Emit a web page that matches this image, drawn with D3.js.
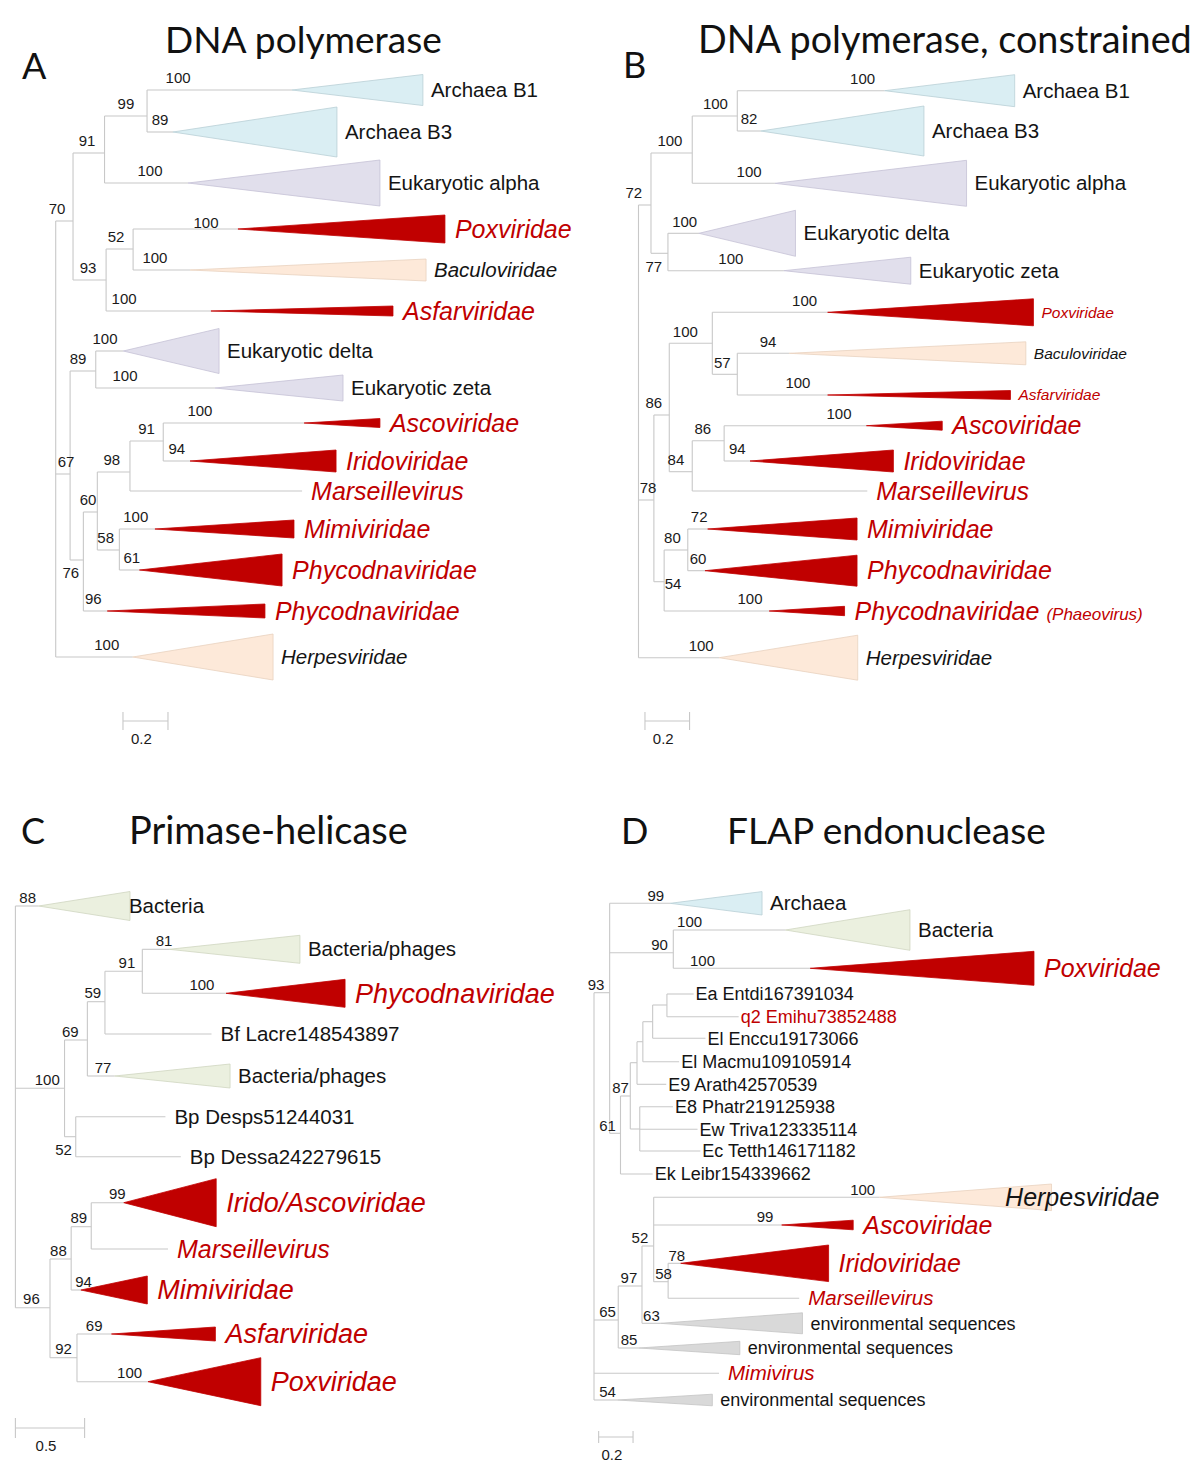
<!DOCTYPE html>
<html><head><meta charset="utf-8">
<script src="https://cdn.jsdelivr.net/npm/d3@7"></script>
<style>body{margin:0;background:#fff}svg{display:block}</style>
</head><body>
<svg id="fig" width="1200" height="1473"></svg>
<script>
// ================= DATA =================
// internal nodes: [id, parent, depth (subst./site), vertical position, support, support-label depth, support-label side]
// clades (collapsed): [name, parent, apex depth, base depth, position, half-spread, group, text style, support, support-label depth, side, label depth override, suffix]
// leaves: [name, parent, tip depth, position, text style]

// ---- A: DNA polymerase ----
const nodesA = [
  ["r", null, 0, null],
  ["n70", "r", 0.077, 131, 70, 0.006, "a"],
  ["n91", "n70", 0.217, 63, 91, 0.139, "a"],
  ["n99", "n91", 0.406, 26, 99, 0.312, "a"],
  ["n93", "n70", 0.224, 190, 93, 0.144, "a"],
  ["n52", "n93", 0.344, 159, 52, 0.268, "a"],
  ["n67", "r", 0.064, 384, 67, 0.046, "a"],
  ["n89", "n67", 0.178, 281, 89, 0.099, "a"],
  ["n76", "n67", 0.123, 470, 76, 0.067, "b"],
  ["n60", "n76", 0.185, 422, 60, 0.144, "a"],
  ["n98", "n60", 0.330, 382, 98, 0.249, "a"],
  ["n91b", "n98", 0.478, 351, 91, 0.404, "a"],
  ["n58", "n60", 0.283, 460, 58, 0.222, "a"]
];
const cladesA = [
  ["Archaea B1", "n99", 1.050, 1.632, 0, 15.5, "archaea", "N", 100, 0.544, "a"],
  ["Archaea B3", "n99", 0.521, 1.250, 42, 25, "archaea", "N", 89, 0.464, "a"],
  ["Eukaryotic alpha", "n91", 0.588, 1.441, 93, 23, "euk", "N", 100, 0.419, "a"],
  ["Poxviridae", "n52", 0.810, 1.730, 139, 14, "virus", "V", 100, 0.668, "l"],
  ["Baculoviridae", "n52", 0.597, 1.646, 180, 11, "dsdna", "I", 100, 0.441, "a"],
  ["Asfarviridae", "n93", 0.690, 1.499, 221, 5, "virus", "V", 100, 0.304, "a"],
  ["Eukaryotic delta", "n89", 0.300, 0.726, 261, 22.5, "euk", "N", 100, 0.219, "a"],
  ["Eukaryotic zeta", "n89", 0.708, 1.277, 298, 13, "euk", "N", 100, 0.308, "a"],
  ["Ascoviridae", "n91b", 1.104, 1.441, 333, 4.5, "virus", "V", 100, 0.641, "a"],
  ["Iridoviridae", "n91b", 0.597, 1.246, 371, 11, "virus", "V", 94, 0.538, "a"],
  ["Mimiviridae", "n58", 0.441, 1.059, 439, 9, "virus", "V", 100, 0.356, "a"],
  ["Phycodnaviridae", "n58", 0.372, 1.006, 480, 16, "virus", "V", 61, 0.338, "a"],
  ["Phycodnaviridae", "n76", 0.229, 0.930, 521, 7, "virus", "V", 96, 0.167, "a"],
  ["Herpesviridae", "r", 0.342, 0.966, 567, 23, "dsdna", "I", 100, 0.227, "a"]
];
const leavesA = [
  ["Marseillevirus", "n98", 1.095, 401, "V"]
];

// ---- B: DNA polymerase, constrained ----
const nodesB = [
  ["r", null, 0, null],
  ["n72", "r", 0.056, 115, 72, -0.021, "a"],
  ["n100a", "n72", 0.241, 63, 100, 0.141, "a"],
  ["n100b", "n100a", 0.443, 26, 100, 0.345, "a"],
  ["n77", "n72", 0.132, 163.3, 77, 0.069, "b"],
  ["n78", "r", 0.069, 410, 78, 0.043, "a"],
  ["n86a", "n78", 0.138, 325, 86, 0.069, "a"],
  ["n100c", "n86a", 0.331, 253.3, 100, 0.210, "a"],
  ["n57", "n100c", 0.443, 284.3, 57, 0.376, "a"],
  ["n84", "n86a", 0.241, 381.7, 84, 0.168, "a"],
  ["n86b", "n84", 0.384, 350.7, 86, 0.288, "a"],
  ["n54", "n78", 0.115, 491.7, 54, 0.155, "m"],
  ["n80", "n54", 0.221, 460, 80, 0.152, "a"]
];
const cladesB = [
  ["Archaea B1", "n100b", 1.104, 1.687, 0.7, 16, "archaea", "N", 100, 1.005, "a"],
  ["Archaea B3", "n100b", 0.548, 1.280, 41, 25, "archaea", "N", 82, 0.496, "a"],
  ["Eukaryotic alpha", "n100a", 0.612, 1.471, 93.3, 23, "euk", "N", 100, 0.496, "a"],
  ["Eukaryotic delta", "n77", 0.271, 0.704, 143.3, 23, "euk", "N", 100, 0.207, "a"],
  ["Eukaryotic zeta", "n77", 0.652, 1.221, 180.7, 13.5, "euk", "N", 100, 0.414, "a"],
  ["Poxviridae", "n100c", 0.848, 1.771, 222.3, 13.5, "virus", "v", 100, 0.745, "a"],
  ["Baculoviridae", "n57", 0.676, 1.737, 263.3, 11.5, "dsdna", "i", 94, 0.581, "a"],
  ["Asfarviridae", "n57", 0.848, 1.668, 305, 4.5, "virus", "v", 100, 0.715, "a"],
  ["Ascoviridae", "n86b", 1.022, 1.362, 335.7, 4.5, "virus", "V", 100, 0.899, "a"],
  ["Iridoviridae", "n86b", 0.500, 1.143, 371, 11, "virus", "V", 94, 0.443, "a"],
  ["Mimiviridae", "n80", 0.310, 0.980, 439, 11, "virus", "V", 72, 0.272, "a"],
  ["Phycodnaviridae", "n80", 0.298, 0.980, 480.7, 15.5, "virus", "V", 60, 0.267, "a"],
  ["Phycodnaviridae", "n54", 0.586, 0.924, 521, 4.7, "virus", "V", 100, 0.500, "a", null, "(Phaeovirus)"],
  ["Herpesviridae", "r", 0.362, 0.983, 567.7, 22.5, "dsdna", "I", 100, 0.281, "a"]
];
const leavesB = [
  ["Marseillevirus", "n84", 1.026, 401, "V"]
];

// ---- C: Primase-helicase ----
const nodesC = [
  ["r", null, 0, null],
  ["nP", "r", 0.355, 188.3, 100, 0.230, "a"],
  ["nQ", "nP", 0.520, 140, 69, 0.397, "a"],
  ["n59", "nQ", 0.647, 101.7, 59, 0.559, "a"],
  ["n91", "n59", 0.917, 71.3, 91, 0.806, "a"],
  ["n52", "nP", 0.436, 236.7, 52, 0.348, "b"],
  ["n96", "r", 0.250, 407.7, 96, 0.116, "a"],
  ["n88", "n96", 0.403, 359, 88, 0.311, "a"],
  ["n89", "n88", 0.548, 326.7, 89, 0.458, "a"],
  ["n92", "n96", 0.445, 457.7, 92, 0.348, "a"]
];
const cladesC = [
  ["Bacteria", "r", 0.167, 0.828, 6, 14.5, "bact", "N", 88, 0.089, "a", 0.82],
  ["Bacteria/phages", "n91", 1.111, 2.056, 49.3, 14, "bact", "N", 81, 1.074, "a"],
  ["Phycodnaviridae", "n91", 1.522, 2.382, 93.3, 14, "virus", "V", 100, 1.348, "a"],
  ["Bacteria/phages", "nQ", 0.717, 1.551, 176, 12, "bact", "N", 77, 0.633, "a"],
  ["Irido/Ascoviridae", "n89", 0.783, 1.451, 302.7, 24, "virus", "V", 99, 0.736, "a"],
  ["Mimiviridae", "n88", 0.473, 0.953, 390, 14, "virus", "V", 94, 0.492, "a"],
  ["Asfarviridae", "n92", 0.694, 1.445, 434, 7, "virus", "V", 69, 0.569, "a"],
  ["Poxviridae", "n92", 0.958, 1.773, 481.7, 24, "virus", "V", 100, 0.825, "a"]
];
const leavesC = [
  ["Bf Lacre148543897", "n59", 1.417, 134, "N"],
  ["Bp Desps51244031", "n52", 1.084, 216.7, "N"],
  ["Bp Dessa242279615", "n52", 1.195, 256.7, "N"],
  ["Marseillevirus", "n89", 1.103, 349, "v"]
];

// ---- D: FLAP endonuclease ----
const nodesD = [
  ["r", null, 0, null],
  ["n93", "r", 0.091, 92.7, 93, 0.012, "a"],
  ["n90", "n93", 0.461, 52.7, 90, 0.381, "a"],
  ["n61", "n93", 0.154, 233.3, 61, 0.079, "a"],
  ["n87", "n61", 0.211, 196, 87, 0.154, "a"],
  ["nb", "n87", 0.250, 162.7],
  ["nc", "nb", 0.284, 141.7],
  ["nd", "nc", 0.341, 121.7],
  ["ne", "nd", 0.424, 105],
  ["nf", "n87", 0.266, 229],
  ["n65", "r", 0.141, 420, 65, 0.079, "a"],
  ["n97", "n65", 0.279, 386, 97, 0.203, "a"],
  ["nx", "n97", 0.347, 346, 52, 0.267, "a"],
  ["n58", "nx", 0.431, 381.7, 58, 0.404, "a"]
];
const cladesD = [
  ["Archaea", "n93", 0.443, 0.977, 3.3, 11.7, "archaea", "N", 99, 0.359, "a"],
  ["Bacteria", "n90", 1.113, 1.837, 30, 20.3, "bact", "N", 100, 0.556, "a"],
  ["Poxviridae", "n90", 1.257, 2.558, 68.3, 17, "virus", "V", 100, 0.631, "a"],
  ["Herpesviridae", "nx", 1.659, 2.660, 297.3, 13.3, "dsdna", "I", 100, 1.562, "a", 2.39],
  ["Ascoviridae", "nx", 1.091, 1.507, 325, 4.8, "virus", "V", 99, 0.995, "a"],
  ["Iridoviridae", "n58", 0.504, 1.364, 363.3, 18.3, "virus", "V", 78, 0.481, "a"],
  ["environmental sequences", "n97", 0.386, 1.212, 423.3, 10.5, "env", "n", 63, 0.334, "a"],
  ["environmental sequences", "n65", 0.261, 0.848, 448, 6.7, "env", "n", 85, 0.204, "a"],
  ["environmental sequences", "r", 0.136, 0.688, 500, 5.8, "env", "n", 54, 0.079, "a"]
];
const leavesD = [
  ["Ea Entdi167391034", "ne", 0.579, 94, "n"],
  ["q2 Emihu73852488", "ne", 0.841, 116.7, "q"],
  ["El Enccu19173066", "nd", 0.648, 138.3, "n"],
  ["El Macmu109105914", "nc", 0.495, 161.7, "n"],
  ["E9 Arath42570539", "nb", 0.420, 184.3, "n"],
  ["E8 Phatr219125938", "nf", 0.459, 206.7, "n"],
  ["Ew Triva123335114", "nf", 0.602, 229.3, "n"],
  ["Ec Tetth146171182", "nf", 0.618, 251, "n"],
  ["Ek Leibr154339662", "n61", 0.341, 274, "n"],
  ["Marseillevirus", "n58", 1.193, 398.3, "v"],
  ["Mimivirus", "r", 0.727, 473.3, "v"]
];

const panelLetters = ["A", "B", "C", "D"];
const panelTitles = ["DNA polymerase", "DNA polymerase, constrained", "Primase-helicase", "FLAP endonuclease"];
const scaleBarLengths = [0.2, 0.2, 0.5, 0.2];
const scaleBarLabels = ["0.2", "0.2", "0.5", "0.2"];

// ================= STYLE / LAYOUT =================
const RED = "#c00000", INK = "#141414", BRANCH = "#c8c8c8";
const FONT = "'Liberation Sans', Arial, sans-serif";
const TFONT = "Lato, 'Open Sans', sans-serif";
const FILL = {archaea: "#daeef3", euk: "#e1dfec", dsdna: "#fde9d9", virus: RED, bact: "#ebf0df", env: "#d9d9d9"};
const EDGE = {archaea: "#b9cfd6", euk: "#c5c2d6", dsdna: "#e9d2bf", virus: RED, bact: "#cfd5c0", env: "#c4c4c4"};

const layouts = [
  {rootX: 55.7, unit: 225, baseY: 90, supSize: 15, supOff: 12.5,
   styles: {V: [25, RED, 1], N: [20.5, INK, 0], I: [20.5, INK, 1]},
   bar: {start: 0.299, y: 721, tick: 9}, title: {lx: 22, ly: 79, tx: 165, ty: 53, tw: 277}},
  {rootX: 638.5, unit: 223, baseY: 90, supSize: 15, supOff: 12,
   styles: {V: [25, RED, 1], v: [15.5, RED, 1], i: [15.5, INK, 1], N: [20.5, INK, 0], I: [20.5, INK, 1]},
   bar: {start: 0.029, y: 721, tick: 9}, title: {lx: 623, ly: 78, tx: 698, ty: 53, tw: 494}},
  {rootX: 15.4, unit: 138.4, baseY: 900, supSize: 15, supOff: 8.5,
   styles: {V: [27, RED, 1], v: [25, RED, 1], N: [20.5, INK, 0]},
   bar: {start: 0, y: 1428, tick: 10}, title: {lx: 21, ly: 844, tx: 129, ty: 844, tw: 279}},
  {rootX: 594, unit: 172, baseY: 900, supSize: 15, supOff: 8,
   styles: {V: [25, RED, 1], v: [20.5, RED, 1], N: [20.5, INK, 0], n: [18, INK, 0], I: [25, INK, 1], q: [18, RED, 0]},
   bar: {start: 0.027, y: 1437, tick: 6}, title: {lx: 621, ly: 844, tx: 727, ty: 844, tw: 319}}
];

const svg = d3.select("#fig");
svg.append("rect").attr("width", 1200).attr("height", 1473).attr("fill", "#fff");

function drawTree(nodes, clades, leaves, L, barLen, barLabel) {
  const g = svg.append("g");
  const xs = d3.scaleLinear().domain([0, 1]).range([L.rootX, L.rootX + L.unit]);
  const ys = d3.scaleLinear().domain([0, 100]).range([L.baseY, L.baseY + 100]);
  const map = new Map();
  nodes.forEach(n => map.set(n[0], {id: n[0], parent: n[1], depth: n[2], y: n[3], sup: n[4], supD: n[5], side: n[6], kids: []}));
  nodes.forEach(n => { if (n[1]) map.get(n[1]).kids.push(n[3]); });
  clades.forEach(c => map.get(c[1]).kids.push(c[4]));
  leaves.forEach(l => map.get(l[1]).kids.push(l[3]));

  const segs = [];
  map.forEach(n => {
    segs.push([[n.depth, d3.min(n.kids)], [n.depth, d3.max(n.kids)]]);
    if (n.parent) segs.push([[map.get(n.parent).depth, n.y], [n.depth, n.y]]);
  });
  clades.forEach(c => segs.push([[map.get(c[1]).depth, c[4]], [c[2], c[4]]]));
  leaves.forEach(l => segs.push([[map.get(l[1]).depth, l[3]], [l[2], l[3]]]));
  const line = d3.line().x(d => xs(d[0])).y(d => ys(d[1]));
  g.append("g").selectAll("path").data(segs).join("path")
    .attr("d", line).attr("fill", "none").attr("stroke", BRANCH).attr("stroke-width", 1.1);

  // collapsed clades
  g.append("g").selectAll("path").data(clades).join("path")
    .attr("d", c => line([[c[2], c[4]], [c[3], c[4] - c[5]], [c[3], c[4] + c[5]]]) + "Z")
    .attr("fill", c => FILL[c[6]]).attr("stroke", c => EDGE[c[6]]).attr("stroke-width", 0.8);

  const textAt = (sel, st) => sel.attr("font-family", FONT).attr("font-size", st[0])
    .attr("fill", st[1]).attr("font-style", st[2] ? "italic" : "normal");

  // clade names
  clades.forEach(c => {
    const st = L.styles[c[7]];
    const gap = c[11] != null ? 0 : (st[2] && st[0] > 22 ? 10 : 8);
    const t = g.append("text")
      .attr("x", xs(c[11] != null ? c[11] : c[3]) + gap)
      .attr("y", ys(c[4])).attr("dy", "0.35em").text(c[0]);
    textAt(t, st);
    if (c[12]) t.append("tspan").attr("dx", 7).attr("font-size", 17).text(c[12]);
  });
  // leaf names
  leaves.forEach(l => {
    const st = L.styles[l[4]];
    const gap = (l[4] === "n" || l[4] === "q") ? 2 : 9;
    const t = g.append("text").attr("x", xs(l[2]) + gap).attr("y", ys(l[3]))
      .attr("dy", "0.35em").text(l[0]);
    textAt(t, st);
  });

  // support values
  const sups = [];
  map.forEach(n => { if (n.sup != null) sups.push([n.sup, n.supD, n.y, n.side]); });
  clades.forEach(c => sups.push([c[8], c[9], c[4], c[10]]));
  const off = s => s === "b" ? 13 : s === "m" ? 2 : s === "l" ? -6 : -L.supOff;
  g.append("g").selectAll("text").data(sups).join("text")
    .attr("x", d => xs(d[1])).attr("y", d => ys(d[2]) + off(d[3]))
    .attr("dy", "0.35em").attr("text-anchor", "middle")
    .attr("font-family", FONT).attr("font-size", L.supSize).attr("fill", "#1a1a1a")
    .text(d => d[0]);

  // scale bar
  const b = L.bar, x1 = xs(b.start), x2 = xs(b.start + barLen);
  const sb = g.append("g").attr("stroke", BRANCH).attr("stroke-width", 1.1);
  sb.append("line").attr("x1", x1).attr("x2", x2).attr("y1", b.y).attr("y2", b.y);
  sb.append("line").attr("x1", x1).attr("x2", x1).attr("y1", b.y - b.tick).attr("y2", b.y + b.tick);
  sb.append("line").attr("x1", x2).attr("x2", x2).attr("y1", b.y - b.tick).attr("y2", b.y + b.tick);
  g.append("text").attr("x", (x1 + x2) / 2 - 4).attr("y", b.y + 18).attr("dy", "0.35em")
    .attr("text-anchor", "middle").attr("font-family", FONT).attr("font-size", 15)
    .attr("fill", "#1a1a1a").text(barLabel);
}

const treeData = [[nodesA, cladesA, leavesA], [nodesB, cladesB, leavesB], [nodesC, cladesC, leavesC], [nodesD, cladesD, leavesD]];
treeData.forEach((t, i) => drawTree(t[0], t[1], t[2], layouts[i], scaleBarLengths[i], scaleBarLabels[i]));

// panel letters and titles
layouts.forEach((L, i) => {
  const T = L.title;
  svg.append("text").attr("x", T.lx).attr("y", T.ly).attr("font-family", TFONT)
    .attr("font-size", 36).attr("fill", "#111").text(panelLetters[i]);
  const t = svg.append("text").attr("x", T.tx).attr("y", T.ty).attr("font-family", TFONT)
    .attr("font-size", 100).attr("fill", "#111").text(panelTitles[i]);
  const w = t.node().getComputedTextLength();
  t.attr("font-size", 100 * T.tw / w);
});
</script>
</body></html>
